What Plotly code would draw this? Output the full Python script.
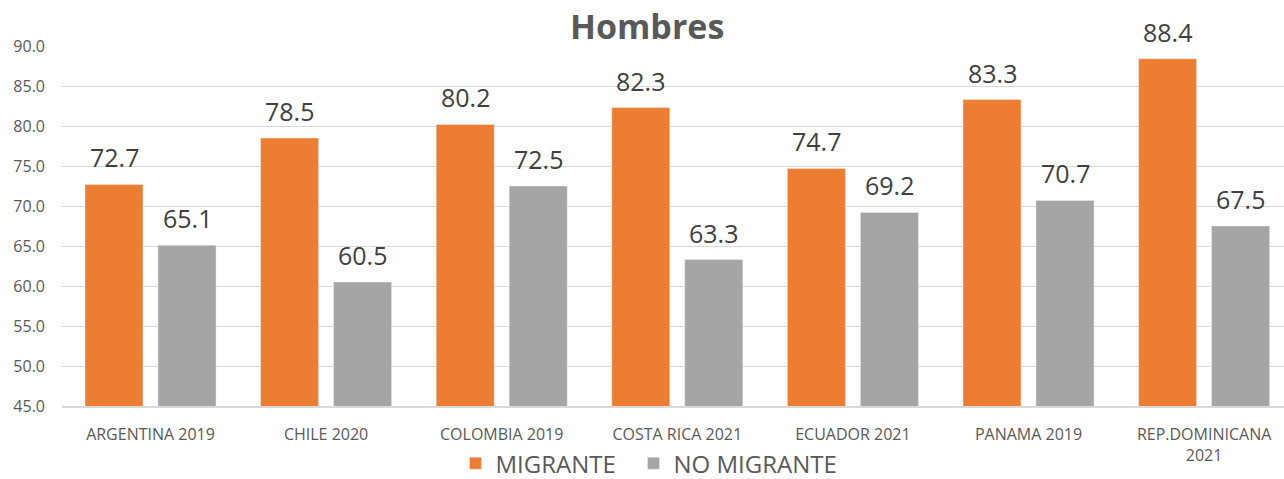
import plotly.graph_objects as go

categories = ["ARGENTINA 2019", "CHILE 2020", "COLOMBIA 2019", "COSTA RICA 2021",
              "ECUADOR 2021", "PANAMA 2019", "REP.DOMINICANA<br>2021"]
migrante = [72.7, 78.5, 80.2, 82.3, 74.7, 83.3, 88.4]
no_migrante = [65.1, 60.5, 72.5, 63.3, 69.2, 70.7, 67.5]

FONT = "Open Sans"
fig = go.Figure()
fig.add_trace(go.Bar(x=categories, y=migrante, name="MIGRANTE", marker_color="#ED7D31",
                     cliponaxis=False, legend="legend"))
fig.add_trace(go.Bar(x=categories, y=no_migrante, name="NO MIGRANTE", marker_color="#A5A5A5",
                     cliponaxis=False, legend="legend2"))

# data labels as annotations positioned on the bar values
bargap, bgg = 0.1686, 0.205
slot = (1 - bargap) / 2
for i, cat in enumerate(categories):
    for series, sign in ((migrante, -1), (no_migrante, 1)):
        v = series[i]
        fig.add_annotation(x=i + sign * slot / 2, y=v, xref="x", yref="y",
                           text=f"{v:.1f}", showarrow=False, yanchor="middle",
                           yshift=27, font=dict(size=25, color="#404040", family=FONT))

legend_common = dict(orientation="h", xanchor="left", y=-0.16, yanchor="middle",
                     font=dict(size=24, color="#595959", family=FONT), itemwidth=30,
                     bgcolor="rgba(0,0,0,0)")

fig.update_layout(
    width=1284, height=479,
    margin=dict(l=62, r=0, t=46, b=73, autoexpand=False),
    paper_bgcolor="white", plot_bgcolor="white",
    barmode="group", bargap=bargap, bargroupgap=bgg,
    font=dict(family=FONT, color="#595959"),
    title=dict(text="<b>Hombres</b>", x=0.504, xanchor="center", y=0.9436, yanchor="middle",
               font=dict(size=34, color="#595959", family=FONT)),
    legend=dict(x=0.322, **legend_common),
    legend2=dict(x=0.4677, **legend_common),
    showlegend=True,
)
fig.update_yaxes(range=[45, 90], dtick=5, tickformat=".1f", showgrid=True,
                 gridcolor="#D9D9D9", gridwidth=1, zeroline=False, automargin=False,
                 tickfont=dict(size=16, color="#595959"), ticks="", ticklabelstandoff=16)
fig.update_xaxes(range=[-0.504, 6.455], showline=True, linecolor="#D9D9D9", linewidth=1.5,
                 automargin=False, tickfont=dict(size=16, color="#595959"), ticks="",
                 ticklabelstandoff=13)

fig.write_html("out.html", config={"displayModeBar": False},
               post_script="document.body.style.margin='0';")
